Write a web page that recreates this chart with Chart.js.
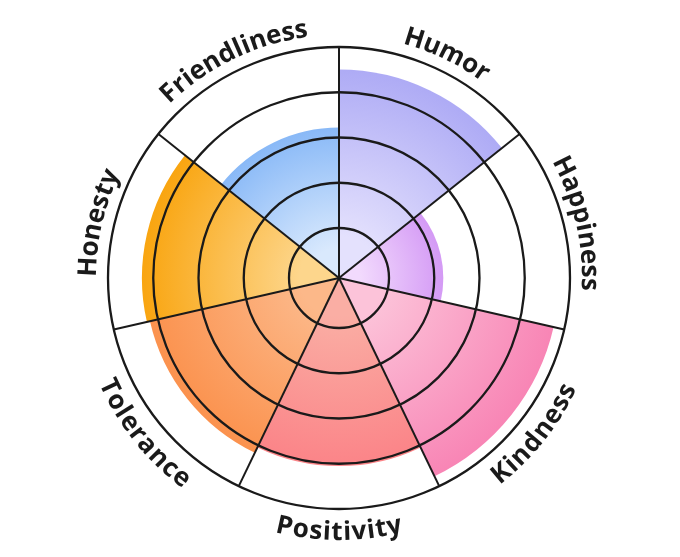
<!DOCTYPE html>
<html>
<head>
<meta charset="utf-8">
<script src="https://cdn.jsdelivr.net/npm/chart.js@4/dist/chart.umd.min.js"></script>
<style>
  html, body { margin: 0; padding: 0; background: #fff; }
  #wrap { width: 680px; height: 557px; }
</style>
</head>
<body>
<div id="wrap"><canvas id="chart"></canvas></div>
<script>
// traits, clockwise from 12 o'clock
const traits = ['Humor', 'Happiness', 'Kindness', 'Positivity', 'Tolerance', 'Honesty', 'Friendliness'];
const scores = [4.5, 2.2, 4.76, 4.05, 4.18, 4.25, 3.22];
const scaleMin = -0.105;   // the first ring sits a little away from the hub
const scaleMax = 5;

// light colour near the centre, saturated colour at the slice edge
const innerColors = ['#e4e1fd', '#f2dafd', '#fcc3d9', '#faaea4', '#fcb889', '#fdd68c', '#d9e9fd'];
const outerColors = ['#aeabf5', '#d49af5', '#f885b5', '#fb8488', '#fb924e', '#f9a510', '#89b9f7'];

const inkColor = '#1a1a1a';

function sliceFill(ctx) {
  const i = ctx.dataIndex;
  const chart = ctx.chart;
  const r = chart.scales.r;
  if (!chart.chartArea || !r || i === undefined) return outerColors[i] || '#ccc';
  const rad = Math.max(1, r.getDistanceFromCenterForValue(scores[i]));
  const g = chart.ctx.createRadialGradient(r.xCenter, r.yCenter, 0, r.xCenter, r.yCenter, rad);
  g.addColorStop(0, innerColors[i]);
  g.addColorStop(0.2, innerColors[i]);
  g.addColorStop(1, outerColors[i]);
  return g;
}

// labels bent along the outer ring
const curvedLabels = {
  id: 'curvedLabels',
  afterDraw(chart) {
    const r = chart.scales.r;
    const c = chart.ctx;
    const spacing = 0.5;
    const step = 2 * Math.PI / traits.length;
    c.save();
    c.font = '700 26px "Open Sans"';
    c.fillStyle = inkColor;
    c.textAlign = 'center';
    c.textBaseline = 'alphabetic';
    traits.forEach((text, i) => {
      const mid = (i + 0.5) * step;
      // bottom labels read left to right with their tops toward the hub
      const bottom = mid > Math.PI / 2 && mid < 3 * Math.PI / 2;
      const baseR = bottom ? r.drawingArea + 31 : r.drawingArea + 12;
      const arcR = bottom ? baseR - 9 : baseR + 9;
      const dir = bottom ? -1 : 1;
      const chars = [...text];
      const widths = chars.map(ch => c.measureText(ch).width);
      const total = widths.reduce((a, b) => a + b, 0) + spacing * (chars.length - 1);
      let s = 0;
      chars.forEach((ch, k) => {
        const centre = s + widths[k] / 2 - total / 2;
        const ang = mid + dir * centre / arcR;
        c.save();
        c.translate(r.xCenter, r.yCenter);
        if (bottom) {
          c.rotate(ang + Math.PI);
          c.fillText(ch, 0, baseR);
        } else {
          c.rotate(ang);
          c.fillText(ch, 0, -baseR);
        }
        c.restore();
        s += widths[k] + spacing;
      });
    });
    c.restore();
  }
};

new Chart(document.getElementById('chart'), {
  type: 'polarArea',
  data: {
    labels: traits,
    datasets: [{
      data: scores,
      backgroundColor: sliceFill,
      borderWidth: 0
    }]
  },
  options: {
    responsive: true,
    maintainAspectRatio: false,
    animation: false,
    layout: { padding: { top: 47, bottom: 48, left: 0, right: 2 } },
    plugins: {
      legend: { display: false },
      tooltip: { enabled: false }
    },
    scales: {
      r: {
        min: scaleMin,
        max: scaleMax,
        startAngle: 0,
        ticks: { display: false, stepSize: 1 },
        grid: {
          circular: true,
          color: ctx => (ctx.tick && ctx.tick.value > 0.5 ? inkColor : 'rgba(0,0,0,0)'),
          lineWidth: 2.3,
          z: 1
        },
        angleLines: { display: true, color: inkColor, lineWidth: 2 },
        pointLabels: { display: false }
      }
    }
  },
  plugins: [curvedLabels]
});
</script>
</body>
</html>
